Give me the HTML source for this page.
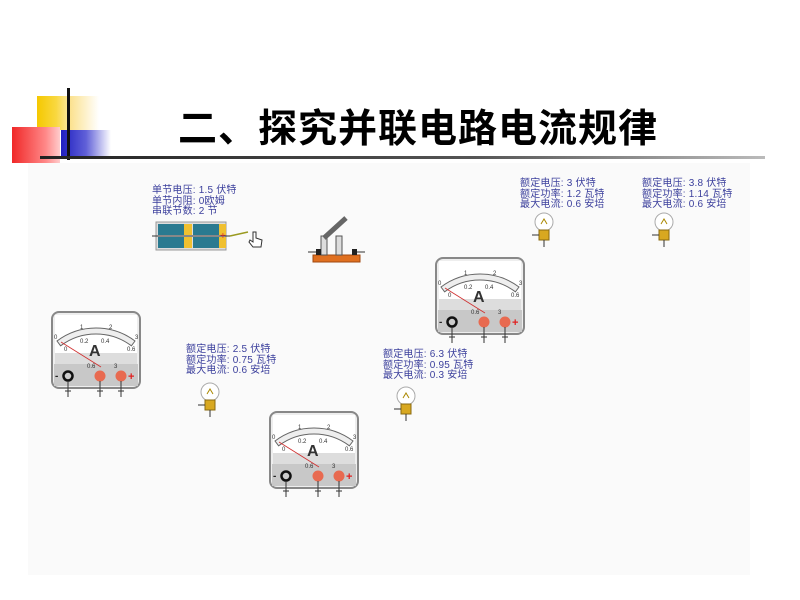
<!DOCTYPE html>
<html><head><meta charset="utf-8"><style>
body{margin:0;width:800px;height:600px;position:relative;background:#fff;overflow:hidden;font-family:"Liberation Sans","Noto Sans CJK SC",sans-serif}
.a{position:absolute}
.t{position:absolute;color:#3b3f9c;font-size:10px;line-height:10.5px;white-space:nowrap;letter-spacing:0.2px}
</style></head><body>
<div class="a" style="left:28px;top:163px;width:722px;height:412px;background:#fafafa"></div>
<div class="a" style="left:37px;top:96px;width:32px;height:34px;background:linear-gradient(90deg,#f5c800,#f9d840 60%,#fde9a0)"></div>
<div class="a" style="left:69px;top:96px;width:30px;height:34px;background:linear-gradient(90deg,#fbe08a,#fff)"></div>
<div class="a" style="left:12px;top:127px;width:48px;height:36px;background:linear-gradient(90deg,#f02828,#f88 70%,#fcc)"></div>
<div class="a" style="left:61px;top:130px;width:50px;height:28px;background:linear-gradient(90deg,#2020c0,#6060d8 50%,#fff)"></div>
<div class="a" style="left:67px;top:88px;width:3px;height:72px;background:#111"></div>
<div class="a" style="left:40px;top:156px;width:725px;height:3px;background:linear-gradient(90deg,#222,#555 60%,#bbb)"></div>
<div class="a" style="left:178px;top:98px;font-size:39px;font-weight:bold;color:#000;letter-spacing:1px;white-space:nowrap">二、探究并联电路电流规律</div>

<div class="t" style="left:152px;top:186px">单节电压: 1.5 伏特<br>单节内阻: 0欧姆<br>串联节数: 2 节</div>
<svg class="a" style="left:150px;top:218px" width="120" height="40">
<rect x="6" y="4" width="70" height="28" fill="#ddd" stroke="#999"/>
<rect x="8" y="6" width="26" height="11" fill="#2a7a90"/><rect x="8" y="19" width="26" height="11" fill="#2a7a90"/>
<rect x="34" y="6" width="8" height="11" fill="#f0c030"/><rect x="34" y="19" width="8" height="11" fill="#f0c030"/>
<rect x="43" y="6" width="26" height="11" fill="#2a7a90"/><rect x="43" y="19" width="26" height="11" fill="#2a7a90"/>
<rect x="69" y="6" width="7" height="11" fill="#f0c030"/><rect x="69" y="19" width="7" height="11" fill="#f0c030"/>
<line x1="2" y1="18" x2="80" y2="18" stroke="#333"/>
<line x1="80" y1="18" x2="98" y2="14" stroke="#9a9a20" stroke-width="1.5"/>
<text x="70" y="21" font-size="10" fill="#e03030">+</text>
<path d="M103 14 v10 l-3 -2 l-1 2 l4 5 h8 l1 -7 l-6 -2 v-6 z" fill="#fff" stroke="#333"/>
</svg>
<svg class="a" style="left:306px;top:214px" width="60" height="50">
<rect x="7" y="41" width="47" height="7" fill="#e07020" stroke="#a04810"/>
<rect x="15" y="22" width="6" height="19" fill="#ddd" stroke="#555"/>
<rect x="30" y="22" width="6" height="19" fill="#ddd" stroke="#555"/>
<line x1="18" y1="24" x2="40" y2="4" stroke="#666" stroke-width="5"/>
<rect x="10" y="35" width="5" height="6" fill="#222"/><rect x="46" y="35" width="5" height="6" fill="#222"/>
<line x1="2" y1="38" x2="10" y2="38" stroke="#333"/><line x1="51" y1="38" x2="59" y2="38" stroke="#333"/>
</svg>

<div class="t" style="left:520px;top:179px">额定电压: 3 伏特<br>额定功率: 1.2 瓦特<br>最大电流: 0.6 安培</div>
<div class="t" style="left:642px;top:179px">额定电压: 3.8 伏特<br>额定功率: 1.14 瓦特<br>最大电流: 0.6 安培</div>
<div class="t" style="left:186px;top:345px">额定电压: 2.5 伏特<br>额定功率: 0.75 瓦特<br>最大电流: 0.6 安培</div>
<div class="t" style="left:383px;top:350px">额定电压: 6.3 伏特<br>额定功率: 0.95 瓦特<br>最大电流: 0.3 安培</div>

<svg class="a" style="left:530px;top:210px" width="30" height="40"><circle cx="14" cy="12" r="9" fill="#fff" stroke="#aaa"/><path d="M11 14 l3 -5 l3 5" fill="none" stroke="#a80"/><rect x="9" y="20" width="10" height="10" fill="#d8a820" stroke="#8a6a10"/><line x1="2" y1="25" x2="9" y2="25" stroke="#333"/><line x1="14" y1="30" x2="14" y2="37" stroke="#333"/></svg>
<svg class="a" style="left:650px;top:210px" width="30" height="40"><circle cx="14" cy="12" r="9" fill="#fff" stroke="#aaa"/><path d="M11 14 l3 -5 l3 5" fill="none" stroke="#a80"/><rect x="9" y="20" width="10" height="10" fill="#d8a820" stroke="#8a6a10"/><line x1="2" y1="25" x2="9" y2="25" stroke="#333"/><line x1="14" y1="30" x2="14" y2="37" stroke="#333"/></svg>
<svg class="a" style="left:196px;top:380px" width="30" height="40"><circle cx="14" cy="12" r="9" fill="#fff" stroke="#aaa"/><path d="M11 14 l3 -5 l3 5" fill="none" stroke="#a80"/><rect x="9" y="20" width="10" height="10" fill="#d8a820" stroke="#8a6a10"/><line x1="2" y1="25" x2="9" y2="25" stroke="#333"/><line x1="14" y1="30" x2="14" y2="37" stroke="#333"/></svg>
<svg class="a" style="left:392px;top:384px" width="30" height="40"><circle cx="14" cy="12" r="9" fill="#fff" stroke="#aaa"/><path d="M11 14 l3 -5 l3 5" fill="none" stroke="#a80"/><rect x="9" y="20" width="10" height="10" fill="#d8a820" stroke="#8a6a10"/><line x1="2" y1="25" x2="9" y2="25" stroke="#333"/><line x1="14" y1="30" x2="14" y2="37" stroke="#333"/></svg>

<svg class="a" style="left:51px;top:311px" width="90" height="88" font-family="Liberation Sans">
<rect x="1" y="1" width="88" height="76" rx="7" fill="#eee" stroke="#888" stroke-width="2"/>
<rect x="4" y="4" width="82" height="38" fill="#fff"/><rect x="4" y="42" width="82" height="11" fill="#ddd"/><rect x="3" y="53" width="84" height="22" fill="#c8c8c8"/>
<path d="M6 30 A65 65 0 0 1 84 30 L80.4 34.8 A59 59 0 0 0 9.6 34.8 Z" fill="#eee" stroke="#666"/>
<line x1="10" y1="31" x2="50" y2="56" stroke="#d03030" stroke-width="0.8"/>
<g font-size="6" fill="#333"><text x="3" y="28">0</text><text x="29" y="18">1</text><text x="58" y="18">2</text><text x="84" y="28">3</text><text x="29" y="32">0.2</text><text x="50" y="32">0.4</text><text x="13" y="40">0</text><text x="76" y="40">0.6</text><text x="36" y="57">0.6</text><text x="63" y="57">3</text></g>
<text x="38" y="45" font-size="16" font-weight="bold" fill="#333">A</text>
<text x="4" y="68" font-size="10" font-weight="bold" fill="#222">-</text><circle cx="17" cy="65" r="4.5" fill="#ccc" stroke="#111" stroke-width="2.5"/>
<circle cx="49" cy="65" r="5.5" fill="#e86a50"/><circle cx="70" cy="65" r="5.5" fill="#e86a50"/>
<text x="77" y="69" font-size="11" font-weight="bold" fill="#e02020">+</text>
<g stroke="#333"><line x1="17" y1="70" x2="17" y2="86"/><line x1="49" y1="70" x2="49" y2="86"/><line x1="70" y1="70" x2="70" y2="86"/><line x1="14" y1="80" x2="20" y2="80"/><line x1="46" y1="80" x2="52" y2="80"/><line x1="67" y1="80" x2="73" y2="80"/></g>
</svg>

<svg class="a" style="left:435px;top:257px" width="90" height="88" font-family="Liberation Sans">
<rect x="1" y="1" width="88" height="76" rx="7" fill="#eee" stroke="#888" stroke-width="2"/>
<rect x="4" y="4" width="82" height="38" fill="#fff"/><rect x="4" y="42" width="82" height="11" fill="#ddd"/><rect x="3" y="53" width="84" height="22" fill="#c8c8c8"/>
<path d="M6 30 A65 65 0 0 1 84 30 L80.4 34.8 A59 59 0 0 0 9.6 34.8 Z" fill="#eee" stroke="#666"/>
<line x1="10" y1="31" x2="50" y2="56" stroke="#d03030" stroke-width="0.8"/>
<g font-size="6" fill="#333"><text x="3" y="28">0</text><text x="29" y="18">1</text><text x="58" y="18">2</text><text x="84" y="28">3</text><text x="29" y="32">0.2</text><text x="50" y="32">0.4</text><text x="13" y="40">0</text><text x="76" y="40">0.6</text><text x="36" y="57">0.6</text><text x="63" y="57">3</text></g>
<text x="38" y="45" font-size="16" font-weight="bold" fill="#333">A</text>
<text x="4" y="68" font-size="10" font-weight="bold" fill="#222">-</text><circle cx="17" cy="65" r="4.5" fill="#ccc" stroke="#111" stroke-width="2.5"/>
<circle cx="49" cy="65" r="5.5" fill="#e86a50"/><circle cx="70" cy="65" r="5.5" fill="#e86a50"/>
<text x="77" y="69" font-size="11" font-weight="bold" fill="#e02020">+</text>
<g stroke="#333"><line x1="17" y1="70" x2="17" y2="86"/><line x1="49" y1="70" x2="49" y2="86"/><line x1="70" y1="70" x2="70" y2="86"/><line x1="14" y1="80" x2="20" y2="80"/><line x1="46" y1="80" x2="52" y2="80"/><line x1="67" y1="80" x2="73" y2="80"/></g>
</svg>

<svg class="a" style="left:269px;top:411px" width="90" height="88" font-family="Liberation Sans">
<rect x="1" y="1" width="88" height="76" rx="7" fill="#eee" stroke="#888" stroke-width="2"/>
<rect x="4" y="4" width="82" height="38" fill="#fff"/><rect x="4" y="42" width="82" height="11" fill="#ddd"/><rect x="3" y="53" width="84" height="22" fill="#c8c8c8"/>
<path d="M6 30 A65 65 0 0 1 84 30 L80.4 34.8 A59 59 0 0 0 9.6 34.8 Z" fill="#eee" stroke="#666"/>
<line x1="10" y1="31" x2="50" y2="56" stroke="#d03030" stroke-width="0.8"/>
<g font-size="6" fill="#333"><text x="3" y="28">0</text><text x="29" y="18">1</text><text x="58" y="18">2</text><text x="84" y="28">3</text><text x="29" y="32">0.2</text><text x="50" y="32">0.4</text><text x="13" y="40">0</text><text x="76" y="40">0.6</text><text x="36" y="57">0.6</text><text x="63" y="57">3</text></g>
<text x="38" y="45" font-size="16" font-weight="bold" fill="#333">A</text>
<text x="4" y="68" font-size="10" font-weight="bold" fill="#222">-</text><circle cx="17" cy="65" r="4.5" fill="#ccc" stroke="#111" stroke-width="2.5"/>
<circle cx="49" cy="65" r="5.5" fill="#e86a50"/><circle cx="70" cy="65" r="5.5" fill="#e86a50"/>
<text x="77" y="69" font-size="11" font-weight="bold" fill="#e02020">+</text>
<g stroke="#333"><line x1="17" y1="70" x2="17" y2="86"/><line x1="49" y1="70" x2="49" y2="86"/><line x1="70" y1="70" x2="70" y2="86"/><line x1="14" y1="80" x2="20" y2="80"/><line x1="46" y1="80" x2="52" y2="80"/><line x1="67" y1="80" x2="73" y2="80"/></g>
</svg>
</body></html>
